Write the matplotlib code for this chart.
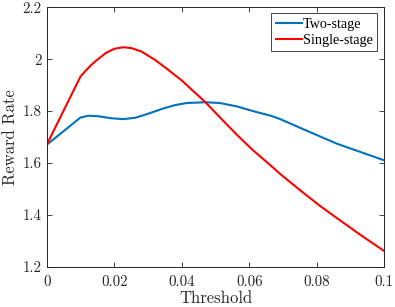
import matplotlib
matplotlib.use("Agg")
import matplotlib.pyplot as plt

plt.rcParams["axes.formatter.use_mathtext"] = True

threshold_two = [0.0, 0.01, 0.0123, 0.0153, 0.0193, 0.0227, 0.0262, 0.0301, 0.0341, 0.038,
                 0.0415, 0.0471, 0.0513, 0.0563, 0.0622, 0.0661, 0.069, 0.076, 0.086, 0.1]
two_stage = [1.67, 1.775, 1.782, 1.780, 1.772, 1.769, 1.774, 1.790, 1.808, 1.823,
             1.831, 1.834, 1.831, 1.818, 1.796, 1.783, 1.770, 1.730, 1.674, 1.610]

threshold_single = [0.0, 0.01, 0.0115, 0.013, 0.0145, 0.016, 0.0175, 0.02, 0.0227, 0.025,
                    0.028, 0.032, 0.036, 0.04, 0.0435, 0.0471, 0.0515, 0.0563, 0.061, 0.0661,
                    0.0691, 0.076, 0.081, 0.0859, 0.093, 0.1]
single_stage = [1.67, 1.933, 1.955, 1.975, 1.993, 2.008, 2.024, 2.040, 2.046, 2.043,
                2.030, 1.998, 1.959, 1.918, 1.876, 1.833, 1.773, 1.709, 1.650, 1.593,
                1.558, 1.485, 1.434, 1.388, 1.322, 1.260]

xticks = [0, 0.02, 0.04, 0.06, 0.08, 0.1]
xtick_labels = ["0", "0.02", "0.04", "0.06", "0.08", "0.1"]
yticks = [1.2, 1.4, 1.6, 1.8, 2.0, 2.2]
ytick_labels = ["1.2", "1.4", "1.6", "1.8", "2", "2.2"]

axis_color = "0.15"
text_color = "0.15"

fig = plt.figure(figsize=(3.95, 3.07), dpi=100)
ax = fig.add_axes([46.7 / 395, 1 - 266.7 / 307, 337.6 / 395, 259.4 / 307])

ax.plot(threshold_two, two_stage, color=(0, 0.447, 0.741), lw=1.5, label="Two-stage")
ax.plot(threshold_single, single_stage, color=(1, 0, 0), lw=1.5, label="Single-stage")

ax.set_xlim(0, 0.1)
ax.set_ylim(1.2, 2.2)
ax.set_xticks(xticks)
ax.set_yticks(yticks)
ax.set_xticklabels(xtick_labels, family="cmr10", fontsize=10.8, color=text_color)
ax.set_yticklabels(ytick_labels, family="cmr10", fontsize=10.8, color=text_color)
ax.tick_params(direction="in", top=True, right=True, length=3.5, width=0.6, color=axis_color)
ax.tick_params(axis="x", pad=6.0)
ax.tick_params(axis="y", pad=3.6)
for s in ax.spines.values():
    s.set_color(axis_color)
    s.set_linewidth(0.7)

ax.set_xlabel("Threshold", family="cmr10", fontsize=12, color=text_color, labelpad=1.5)
ax.set_ylabel("Reward Rate", family="cmr10", fontsize=12, color=text_color, labelpad=3.5)

leg = ax.legend(loc="upper right", bbox_to_anchor=(0.9775, 0.977),
                prop={"family": "Liberation Serif", "size": 10.2},
                fancybox=False, edgecolor=axis_color, framealpha=1, borderpad=0.3,
                handlelength=1.85, handletextpad=0.05, labelspacing=0.22, borderaxespad=0.0)
leg.get_frame().set_linewidth(0.6)

fig.savefig("out.png", dpi=100)
